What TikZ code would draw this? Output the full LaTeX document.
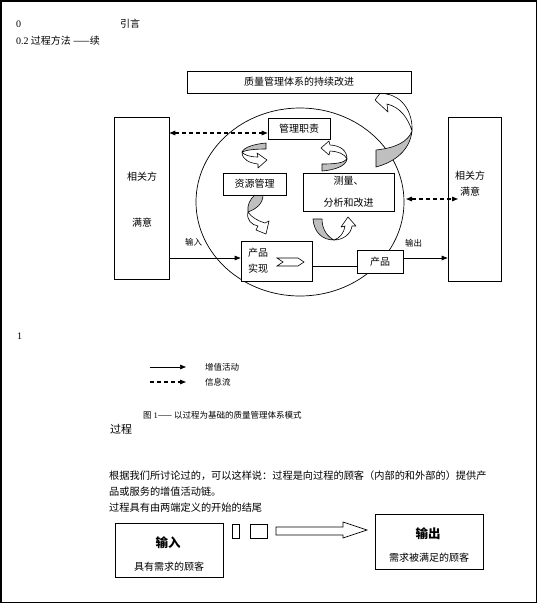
\documentclass[tikz,border=0pt]{standalone}
\usepackage{fontspec}
\setmainfont{Liberation Serif}
\newfontfamily\cjk{Noto Sans CJK SC}
\usetikzlibrary{arrows.meta}
\begin{document}
\begin{tikzpicture}[x=1pt,y=-1pt,
  box/.style={draw, line width=0.7pt, fill=white, inner sep=0pt},
  txt/.style={inner sep=0pt, font=\cjk\fontsize{10}{12}\selectfont},
  small/.style={inner sep=0pt, font=\cjk\fontsize{8.5}{10}\selectfont},
  flow/.style={line width=0.7pt, -{Triangle[length=6pt,width=4.5pt]}},
  info/.style={line width=1.1pt, dash pattern=on 4pt off 3pt, {Triangle[length=6pt,width=4.5pt]}-{Triangle[length=6pt,width=4.5pt]}},
  infoone/.style={line width=1.1pt, dash pattern=on 4pt off 3pt, -{Triangle[length=6pt,width=4.5pt]}},
  ca/.style={draw, line width=0.6pt, fill=white, line join=round},
  cg/.style={draw, line width=0.6pt, fill=black!25, line join=round}]
\useasboundingbox (0,0) rectangle (537,603);
\draw[line width=1.5pt] (0.75,0.75) rectangle (536.25,602.25);

% header
\node[txt, anchor=west] (h0) at (16,24) {\rmfamily 0};
\node[txt, anchor=west] (h1) at (120,24) {引言};
\node[txt, anchor=west] (h2) at (16,41) {{\rmfamily 0.2} 过程方法 ——续};

% ellipse
\draw[line width=0.7pt] (300,202) ellipse [x radius=104, y radius=94];

% curved block arrows
\path[cg] (412,131) .. controls (410,150) and (395,162) .. (376,167) -- (376,150) .. controls (395,148) and (408,142) .. (412,131) -- cycle;
\path[ca] (412,131) .. controls (413,112) and (402,96) .. (386,94) -- (384,88) -- (375,100) -- (388,112) -- (387,104) .. controls (400,107) and (408,118) .. (412,131) -- cycle;

\path[cg] (242,152) .. controls (244,147) and (255,144) .. (266,143) -- (266,149) .. controls (255,149) and (246,150) .. (242,152) -- cycle;
\path[ca] (242,152) .. controls (242,160) and (250,163) .. (258,164) -- (258,168) -- (267,160) -- (257,153) -- (258,157) .. controls (250,157) and (244,155) .. (242,152) -- cycle;

\path[ca] (347,159) .. controls (345,154) and (338,151.5) .. (330,151) -- (329,155) -- (321,148) -- (329,141) -- (330,145) .. controls (341,145.5) and (347,151) .. (347,159) -- cycle;
\path[cg] (347,159) .. controls (346,166) and (335,170) .. (322,171) -- (322,164) .. controls (335,164) and (344,163) .. (347,159) -- cycle;

\path[cg] (255,195) -- (263,195) .. controls (263,204) and (256,209) .. (248,212) .. controls (247,205) and (250,199) .. (255,195) -- cycle;
\path[ca] (248,212) .. controls (246,220) and (252,225) .. (258,226) -- (256,230) -- (266,234) -- (269,221) -- (265,223) .. controls (258,221) and (251,217) .. (248,212) -- cycle;

\path[cg] (313,219) -- (322,219) .. controls (322,230) and (328,237) .. (334,240) .. controls (322,240) and (314,232) .. (313,219) -- cycle;
\path[ca] (334,240) .. controls (340,238) and (344,233) .. (345,226) -- (341,227) -- (348,217) -- (356,226) -- (352,226) .. controls (351,234) and (343,240) .. (334,240) -- cycle;

% boxes
\node[box, txt, draw, fill=white, minimum width=224pt, minimum height=22pt] (ci) at (299,82) {质量管理体系的持续改进};
\node[box, minimum width=55pt, minimum height=162pt] (L) at (141.5,198) {};
\node[txt] (Lt1) at (142,177) {相关方};
\node[txt] (Lt2) at (142,223) {满意};
\node[box, minimum width=53pt, minimum height=164pt] (R) at (474.5,199) {};
\node[txt, align=center, font=\cjk\fontsize{10}{16}\selectfont] (Rt) at (470,184) {相关方\\满意};
\node[box, txt, draw, fill=white, minimum width=62pt, minimum height=21pt] (mr) at (299,128.5) {管理职责};
\node[box, txt, draw, fill=white, minimum width=63pt, minimum height=22pt] (rm) at (254.5,184) {资源管理};
\node[box, txt, draw, fill=white, minimum width=91pt, minimum height=38pt, align=center, font=\cjk\fontsize{10}{22}\selectfont] (ma) at (348.5,192) {测量、\\分析和改进};
\node[box, minimum width=71pt, minimum height=40pt] (pr) at (276.5,261) {};
\node[txt, anchor=west] (prt1) at (248,253) {产品};
\node[txt, anchor=west] (prt2) at (248,269) {实现};
\draw[line width=0.6pt] (277,258) -- (298,258) -- (304,262) -- (298,266) -- (277,266) -- (283,262) -- cycle;
\node[box, txt, draw, fill=white, minimum width=46pt, minimum height=23pt] (pd) at (380,261.5) {产品};

% connectors
\draw[info] (L.east |- 0,133) -- (mr.west |- 0,133);
\coordinate (d1) at (406,199);
\coordinate (d2) at (458,199);
\draw[info] (d1) -- (d2);
\draw[flow] (L.east |- 0,258) -- (pr.west |- 0,258);
\draw[line width=0.7pt] (pr.east |- 0,266) -- (pd.west |- 0,266);
\draw[flow] (pd.east |- 0,258) -- (R.west |- 0,258);
\node[small, anchor=west] (inl) at (185,242) {输入};
\node[small, anchor=west] (outl) at (405,243) {输出};

% legend
\node[txt, anchor=west] (one) at (17,336) {\rmfamily 1};
\coordinate (la) at (150,367);
\coordinate (lb) at (186,367);
\draw[flow] (la) -- (lb);
\node[small, anchor=west] (lt1) at (205,367) {增值活动};
\coordinate (lc) at (150,382);
\coordinate (ld) at (186,382);
\draw[infoone] (lc) -- (ld);
\node[small, anchor=west] (lt2) at (205,382) {信息流};

\node[small, anchor=west] (cap) at (143,415) {图 {\rmfamily 1}—— 以过程为基础的质量管理体系模式};
\node[txt, anchor=west, font=\cjk\fontsize{11}{13}\selectfont] (gc) at (110,429) {过程};

% paragraph
\node[txt, anchor=west, font=\cjk\fontsize{10.2}{12}\selectfont] (p1) at (109,476) {根据我们所讨论过的，可以这样说：过程是向过程的顾客（内部的和外部的）提供产};
\node[txt, anchor=west, font=\cjk\fontsize{10.2}{12}\selectfont] (p2) at (109,492) {品或服务的增值活动链。};
\node[txt, anchor=west, font=\cjk\fontsize{10.2}{12}\selectfont] (p3) at (109,508) {过程具有由两端定义的开始的结尾};

% bottom process
\node[box, minimum width=108pt, minimum height=54pt, line width=1pt] (bin) at (169,550) {};
\node[txt, font=\cjk\bfseries\fontsize{12.5}{14}\selectfont] (bint) at (168,543) {输入};
\node[txt] (bins) at (169,567) {具有需求的顾客};
\node[box, minimum width=7pt, minimum height=14pt] (s1) at (235.5,531) {};
\node[box, minimum width=17pt, minimum height=14pt] (s2) at (258.5,531) {};
\draw[line width=0.7pt] (276,527) -- (343,527) -- (343,522) -- (367,530) -- (343,538) -- (343,535) -- (276,535) -- cycle;
\node[box, minimum width=108pt, minimum height=55pt, line width=1pt] (bout) at (429,541.5) {};
\node[txt, font=\cjk\bfseries\fontsize{12.5}{14}\selectfont] (boutt) at (428,534) {输出};
\node[txt] (bouts) at (429,558) {需求被满足的顾客};
\end{tikzpicture}
\end{document}
